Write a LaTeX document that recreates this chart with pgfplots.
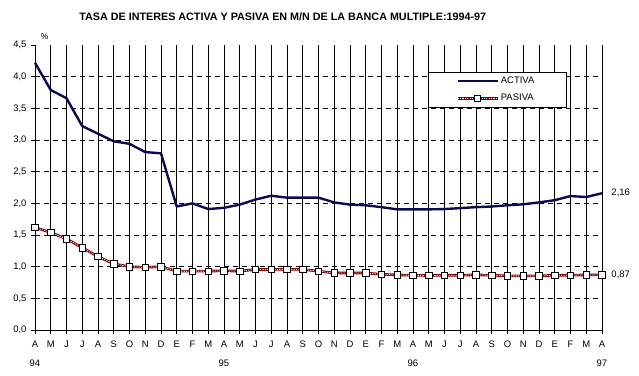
\documentclass[border=0pt]{standalone}
\usepackage{pgfplots}
\pgfplotsset{compat=1.18}
\usepackage{fontspec}
\setmainfont{Liberation Sans}
\definecolor{activa}{RGB}{10,10,80}
\definecolor{pasiva}{RGB}{128,0,0}
\begin{document}
\begin{tikzpicture}[x=1bp,y=1bp]
\begin{axis}[
  scale only axis,
  width=567bp, height=285bp,
  xmin=0, xmax=36, ymin=0, ymax=4.5,
  axis x line*=bottom, axis y line*=left,
  axis line style={-, black, line width=0.8pt},
  xtick={0,...,36},
  xticklabels={{A\\94},M,J,J,A,S,O,N,D,E,F,M,{A\\95},M,J,J,A,S,O,N,D,E,F,M,{A\\96},M,J,J,A,S,O,N,D,E,F,M,{A\\97}},
  xticklabel style={align=center, font=\fontsize{9.5}{19.5}\selectfont, yshift=-3pt},
  ytick={0,0.5,...,4.0},
  extra y ticks={4.5},
  extra y tick style={grid=none},
  yticklabel style={font=\fontsize{9.5}{11}\selectfont, xshift=-1pt},
  /pgf/number format/.cd, use comma, fixed, fixed zerofill, precision=1, assume math mode=true,
  /pgfplots/.cd,
  tick align=outside,
  major tick length=4bp,
  tick style={black, line width=0.8pt},
  xmajorgrids, ymajorgrids,
  x grid style={black, line width=0.8pt, solid},
  y grid style={black, line width=0.8pt, dash pattern=on 5bp off 4bp},
  clip=false,
  legend style={at={(0.693,0.906)}, anchor=north west, draw=black, line width=0.8pt, fill=white,
    font=\fontsize{9.5}{11}\selectfont, inner xsep=6bp, inner ysep=3bp, row sep=5bp,
    cells={anchor=west, text width=58bp}},
  legend image code/.code={\path (-22bp,0bp); \draw[mark repeat=2,mark phase=2,#1] plot coordinates {(0bp,0bp) (20bp,0bp) (40bp,0bp)};},
]
\addplot[color=activa, line width=2.4pt, line join=round] coordinates {
(0,4.22) (1,3.79) (2,3.66) (3,3.22) (4,3.10) (5,2.98) (6,2.94) (7,2.81) (8,2.79)
(9,1.95) (10,2.00) (11,1.91) (12,1.93) (13,1.98) (14,2.06) (15,2.12) (16,2.09)
(17,2.09) (18,2.09) (19,2.015) (20,1.98) (21,1.97) (22,1.94) (23,1.905) (24,1.905)
(25,1.905) (26,1.91) (27,1.925) (28,1.94) (29,1.95) (30,1.97) (31,1.985) (32,2.015)
(33,2.05) (34,2.115) (35,2.10) (36,2.16)};
\addlegendentry{ACTIVA}
\addplot[color=white, line width=0.8pt, dash pattern=on 1.2pt off 1.2pt,
  preaction={draw, pasiva, line width=2.6pt, solid},
  mark=square*, mark size=3.2pt,
  mark options={solid, fill=white, draw=black, line width=0.7pt}] coordinates {
(0,1.62) (1,1.54) (2,1.44) (3,1.30) (4,1.16) (5,1.045) (6,1.00) (7,0.99) (8,1.00)
(9,0.93) (10,0.93) (11,0.93) (12,0.935) (13,0.93) (14,0.955) (15,0.955) (16,0.96)
(17,0.955) (18,0.93) (19,0.90) (20,0.90) (21,0.90) (22,0.88) (23,0.87) (24,0.865)
(25,0.86) (26,0.865) (27,0.865) (28,0.87) (29,0.865) (30,0.855) (31,0.855) (32,0.855)
(33,0.865) (34,0.865) (35,0.87) (36,0.87)};
\addlegendentry{PASIVA}
\node[anchor=west, font=\fontsize{9.5}{11}\selectfont] at (axis cs:36,2.16) [xshift=6bp] {2,16};
\node[anchor=west, font=\fontsize{9.5}{11}\selectfont] at (axis cs:36,0.87) [xshift=6bp] {0,87};
\node[font=\fontsize{8.5}{10}\selectfont] at (rel axis cs:0.017,1.028) {\%};
\node[font=\bfseries\fontsize{10.8}{12}\selectfont] at (rel axis cs:0.437,1.098) {TASA DE INTERES ACTIVA Y PASIVA EN M/N DE LA BANCA MULTIPLE:1994-97};
\path (rel axis cs:-0.0617,-0.158) rectangle (rel axis cs:1.0653,1.158);
\end{axis}
\end{tikzpicture}
\end{document}
